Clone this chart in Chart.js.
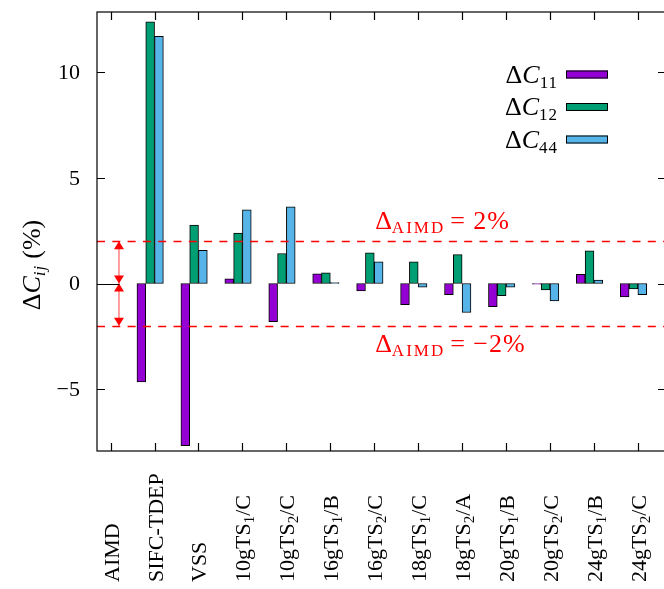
<!DOCTYPE html>
<html>
<head>
<meta charset="utf-8">
<script src="https://cdn.jsdelivr.net/npm/chart.js@4.4.1/dist/chart.umd.min.js"></script>
<style>
  html, body { margin: 0; padding: 0; background: #fff; overflow: hidden; }
  #wrap { width: 664px; height: 589px; overflow: hidden; }
</style>
</head>
<body>
<div id="wrap"><canvas id="chartCanvas" width="680" height="589"></canvas></div>
<script>
// categorias (el "_" marca el subindice)
const categories = ['AIMD', 'SIFC-TDEP', 'VSS', '10gTS_1/C', '10gTS_2/C', '16gTS_1/B', '16gTS_2/C',
                    '18gTS_1/C', '18gTS_2/A', '20gTS_1/B', '20gTS_2/C', '24gTS_1/B', '24gTS_2/C'];

const dC11 = [0, -4.65, -7.67, 0.22, -1.80, 0.46, -0.35, -1.00, -0.53, -1.10, -0.03, 0.43, -0.63];
const dC12 = [0, 12.37, 2.76, 2.38, 1.42, 0.50, 1.45, 1.03, 1.37, -0.58, -0.30, 1.55, -0.25];
const dC44 = [0, 11.69, 1.57, 3.48, 3.63, 0.05, 1.03, -0.17, -1.37, -0.17, -0.82, 0.16, -0.53];

const yTicks = [-5, 0, 5, 10];
const aimdBand = 2;

const seriesNames = ['11', '12', '44'];
const colors = ['#9400d3', '#009e73', '#56b4e9'];

const FONT = '"Liberation Serif", "DejaVu Serif", serif';

function toPoints(arr) {
    return arr.map((v, i) => ({ x: i, y: v }));
}

// dibuja texto con partes (cursiva, subindices)
function drawRich(ctx, parts, x, y, align) {
    let total = 0;
    parts.forEach(p => {
        ctx.font = (p.italic ? 'italic ' : '') + p.size + 'px ' + FONT;
        ctx.letterSpacing = (p.ls || 0) + 'px';
        total += ctx.measureText(p.t).width + (p.gap || 0);
    });
    if (align === 'right') x -= total;
    if (align === 'center') x -= total / 2;
    ctx.textAlign = 'left';
    parts.forEach(p => {
        ctx.font = (p.italic ? 'italic ' : '') + p.size + 'px ' + FONT;
        ctx.letterSpacing = (p.ls || 0) + 'px';
        ctx.fillText(p.t, x, y + (p.dy || 0));
        x += ctx.measureText(p.t).width + (p.gap || 0);
    });
    ctx.letterSpacing = '0px';
}

function labelParts(label) {
    const k = label.indexOf('_');
    if (k < 0) return [{ t: label, size: 22 }];
    return [
        { t: label.slice(0, k), size: 22 },
        { t: label.charAt(k + 1), size: 15, dy: 4 },
        { t: label.slice(k + 2), size: 22 }
    ];
}

function arrowHead(ctx, xp, tip, dir) {
    ctx.beginPath();
    ctx.moveTo(xp, tip);
    ctx.lineTo(xp - 5, tip + dir * 8);
    ctx.lineTo(xp + 5, tip + dir * 8);
    ctx.closePath();
    ctx.fill();
}

const framePlugin = {
    id: 'frame',
    afterDatasetsDraw(chart) {
        const ctx = chart.ctx;
        const a = chart.chartArea;
        const xs = chart.scales.x;
        const ys = chart.scales.y;
        ctx.save();

        // lineas de +-2%
        ctx.strokeStyle = '#ff0000';
        ctx.lineWidth = 1.3;
        ctx.setLineDash([8, 7.3]);
        [aimdBand, -aimdBand].forEach(v => {
            const yp = Math.round(ys.getPixelForValue(v)) + 0.5;
            ctx.beginPath();
            ctx.moveTo(a.left, yp);
            ctx.lineTo(a.right, yp);
            ctx.stroke();
        });
        ctx.setLineDash([]);

        // flechas dobles
        const xa = xs.getPixelForValue(0.19);
        const yTop = ys.getPixelForValue(aimdBand);
        const yZero = ys.getPixelForValue(0);
        const yBot = ys.getPixelForValue(-aimdBand);
        ctx.strokeStyle = 'rgba(255, 0, 0, 0.5)';
        ctx.lineWidth = 1.5;
        ctx.beginPath();
        ctx.moveTo(xa, yTop);
        ctx.lineTo(xa, yBot);
        ctx.stroke();
        ctx.fillStyle = '#ff0000';
        arrowHead(ctx, xa, yTop, 1);
        arrowHead(ctx, xa, yZero, -1);
        arrowHead(ctx, xa, yZero, 1);
        arrowHead(ctx, xa, yBot, -1);

        // textos rojos
        ctx.textBaseline = 'alphabetic';
        drawRich(ctx, [{ t: 'Δ', size: 26 }, { t: 'AIMD', size: 17, dy: 4, ls: 2, gap: 5 }, { t: '= 2%', size: 26, ls: 1 }],
            xs.getPixelForValue(6.02), ys.getPixelForValue(2.58), 'left');
        drawRich(ctx, [{ t: 'Δ', size: 26 }, { t: 'AIMD', size: 17, dy: 4, ls: 2, gap: 5 }, { t: '= −2%', size: 26, ls: 1 }],
            xs.getPixelForValue(6.02), ys.getPixelForValue(-3.22), 'left');

        // marco y marcas
        ctx.strokeStyle = '#000';
        ctx.lineWidth = 1.2;
        ctx.strokeRect(a.left, a.top, a.right - a.left, a.bottom - a.top);
        ctx.beginPath();
        categories.forEach((c, i) => {
            const xp = Math.round(xs.getPixelForValue(i)) + 0.5;
            ctx.moveTo(xp, a.bottom); ctx.lineTo(xp, a.bottom - 8);
            ctx.moveTo(xp, a.top); ctx.lineTo(xp, a.top + 8);
        });
        yTicks.forEach(v => {
            const yp = Math.round(ys.getPixelForValue(v)) + 0.5;
            ctx.moveTo(a.left, yp); ctx.lineTo(a.left + 8, yp);
            ctx.moveTo(a.right, yp); ctx.lineTo(a.right - 8, yp);
        });
        // barras nulas de AIMD
        const y0 = Math.round(yZero) + 0.5;
        ctx.moveTo(a.left, y0); ctx.lineTo(xs.getPixelForValue(0) + 8.8, y0);
        ctx.stroke();

        // etiquetas eje y
        ctx.fillStyle = '#000';
        ctx.textBaseline = 'middle';
        ctx.textAlign = 'right';
        ctx.font = '22px ' + FONT;
        yTicks.forEach(v => {
            ctx.fillText(v < 0 ? '−' + Math.abs(v) : String(v), 80, ys.getPixelForValue(v) + 1);
        });

        // etiquetas eje x (giradas)
        ctx.textBaseline = 'alphabetic';
        categories.forEach((c, i) => {
            ctx.save();
            ctx.translate(xs.getPixelForValue(i) + 8, 582);
            ctx.rotate(-Math.PI / 2);
            drawRich(ctx, labelParts(c), 0, 0, 'left');
            ctx.restore();
        });

        // titulo eje y
        ctx.save();
        ctx.translate(40, 265);
        ctx.rotate(-Math.PI / 2);
        drawRich(ctx, [{ t: 'Δ', size: 26 }, { t: 'C', size: 26, italic: true }, { t: 'ij', size: 17, italic: true, dy: 5, gap: 6, ls: 1 },
            { t: '(%)', size: 26 }], 0, 0, 'center');
        ctx.restore();

        // leyenda
        seriesNames.forEach((n, i) => {
            const yc = 74.5 + i * 32.5;
            ctx.fillStyle = '#000';
            drawRich(ctx, [{ t: 'Δ', size: 26 }, { t: 'C', size: 26, italic: true }, { t: n, size: 17, dy: 5, ls: 1 }],
                558, yc + 8, 'right');
            ctx.fillStyle = colors[i];
            ctx.fillRect(566, yc - 4, 42, 8);
            ctx.strokeStyle = '#000';
            ctx.lineWidth = 1;
            ctx.strokeRect(566.5, yc - 3.5, 41, 7);
        });

        ctx.restore();
    }
};

const ctx = document.getElementById('chartCanvas').getContext('2d');

const datasets = [dC11, dC12, dC44].map((arr, i) => ({
    label: 'ΔC' + seriesNames[i],
    data: toPoints(arr),
    backgroundColor: colors[i],
    borderColor: '#000',
    borderWidth: 1,
    borderSkipped: false,
    barThickness: 8.8
}));
// hueco vacio a la derecha de cada grupo
datasets.push({ label: '', data: categories.map((c, i) => ({ x: i, y: null })), barThickness: 8.8 });

new Chart(ctx, {
    type: 'bar',
    data: { datasets: datasets },
    options: {
        responsive: false,
        animation: false,
        layout: { padding: { left: 97, top: 12, right: 14, bottom: 138 } },
        plugins: {
            legend: { display: false },
            tooltip: { enabled: false }
        },
        scales: {
            x: {
                type: 'linear',
                offset: false,
                min: -0.31,
                max: 12.64,
                display: false,
                afterBuildTicks: function(axis) {
                    axis.ticks = categories.map((c, i) => ({ value: i }));
                }
            },
            y: {
                min: -7.92,
                max: 12.84,
                display: false
            }
        }
    },
    plugins: [framePlugin]
});
</script>
</body>
</html>
